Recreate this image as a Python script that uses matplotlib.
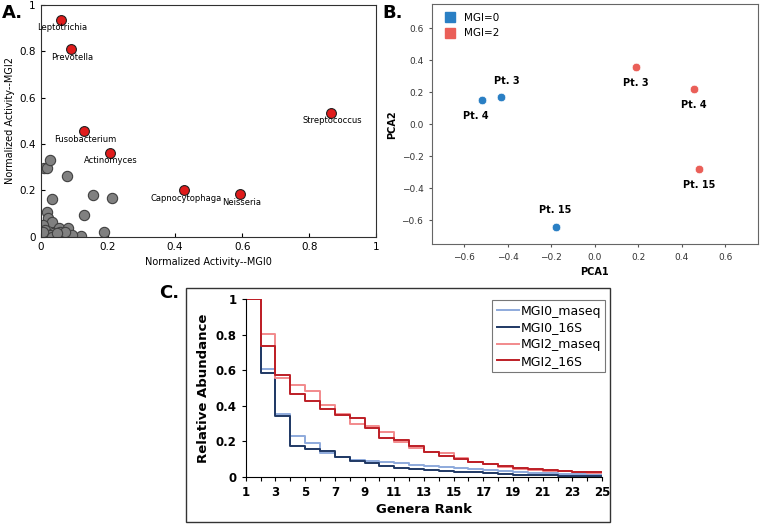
import numpy as np
import matplotlib
matplotlib.use("Agg")
import matplotlib.pyplot as plt
from matplotlib.patches import Rectangle
from matplotlib.lines import Line2D

# panel A: normalized activity
gray_x = [0.01, 0.017, 0.027, 0.078, 0.034, 0.154, 0.212, 0.128, 0.018, 0.022, 0.032, 0.006, 0.012,
          0.053, 0.08, 0.187, 0.118, 0.092, 0.054, 0.037, 0.057, 0.072, 0.004, 0.017, 0.027, 0.007,
          0.032, 0.047]
gray_y = [0.295, 0.298, 0.333, 0.262, 0.163, 0.182, 0.166, 0.095, 0.108, 0.08, 0.063, 0.052, 0.03,
          0.04, 0.037, 0.023, 0.003, 0.009, 0.001, 0.016, 0.023, 0.02, 0.001, 0.001, 0.009, 0.019,
          0.001, 0.016]
genus = ["Leptotrichia", "Prevotella", "Fusobacterium", "Actinomyces", "Capnocytophaga",
         "Neisseria", "Streptococcus"]
genus_x = [0.06, 0.09, 0.128, 0.205, 0.428, 0.595, 0.866]
genus_y = [0.935, 0.808, 0.455, 0.362, 0.2, 0.183, 0.535]

# panel B: PCA
pca1_mgi0 = [-0.52, -0.43, -0.18]
pca2_mgi0 = [0.15, 0.17, -0.64]
lab_mgi0 = ["Pt. 4", "Pt. 3", "Pt. 15"]
pca1_mgi2 = [0.19, 0.455, 0.48]
pca2_mgi2 = [0.36, 0.22, -0.28]
lab_mgi2 = ["Pt. 3", "Pt. 4", "Pt. 15"]

# panel C: rank abundance
rank = np.arange(1, 26)
mgi0_maseq = [1, 0.606, 0.352, 0.228, 0.188, 0.135, 0.108, 0.096, 0.087, 0.083, 0.077, 0.068, 0.062,
              0.055, 0.05, 0.042, 0.036, 0.032, 0.027, 0.022, 0.018, 0.016, 0.013, 0.01, 0.01]
mgi0_16s = [1, 0.584, 0.343, 0.175, 0.154, 0.145, 0.113, 0.09, 0.077, 0.06, 0.05, 0.043, 0.035,
            0.03, 0.027, 0.024, 0.02, 0.016, 0.012, 0.01, 0.008, 0.006, 0.004, 0.002, 0.002]
mgi2_maseq = [1, 0.804, 0.556, 0.514, 0.482, 0.403, 0.352, 0.296, 0.284, 0.252, 0.195, 0.16, 0.14,
              0.135, 0.105, 0.085, 0.07, 0.055, 0.045, 0.038, 0.032, 0.03, 0.026, 0.022, 0.022]
mgi2_16s = [1, 0.736, 0.571, 0.467, 0.427, 0.382, 0.345, 0.33, 0.273, 0.218, 0.205, 0.17, 0.137,
            0.115, 0.097, 0.082, 0.072, 0.058, 0.048, 0.042, 0.038, 0.033, 0.028, 0.025, 0.025]

fig = plt.figure(figsize=(7.6, 5.24), dpi=100)

# ---- A ----
axA = fig.add_axes([0.054, 0.548, 0.441, 0.443])
axA.scatter(gray_x, gray_y, s=55, c="#808080", edgecolors="#404040", linewidths=0.8, zorder=2)
axA.scatter(genus_x, genus_y, s=50, c="#e01b1b", edgecolors="#202020", linewidths=0.8, zorder=3)
for g, x, y in zip(genus, genus_x, genus_y):
    axA.annotate(g, (x, y), xytext=(1, -2.5), textcoords="offset points", ha="center", va="top",
                 fontsize=6)
axA.set_xlim(0, 1)
axA.set_ylim(0, 1)
axA.set_xticks([0, 0.2, 0.4, 0.6, 0.8, 1])
axA.set_xticklabels(["0", "0.2", "0.4", "0.6", "0.8", "1"])
axA.set_yticks([0, 0.2, 0.4, 0.6, 0.8, 1])
axA.set_yticklabels(["0", "0.2", "0.4", "0.6", "0.8", "1"])
axA.tick_params(direction="in", length=3, labelsize=7.5, pad=4)
axA.set_xlabel("Normalized Activity--MGI0", fontsize=7, labelpad=3)
axA.set_ylabel("Normalized Activity--MGI2", fontsize=7, labelpad=3)
for sp in axA.spines.values():
    sp.set_color("#303030")

# ---- B ----
blue = "#2a7fc4"
red = "#ea5f58"
axB = fig.add_axes([0.568, 0.534, 0.429, 0.458])
axB.scatter(pca1_mgi0, pca2_mgi0, s=38, c=blue, edgecolors="white", linewidths=0.5, zorder=3)
axB.scatter(pca1_mgi2, pca2_mgi2, s=38, c=red, edgecolors="white", linewidths=0.5, zorder=3)
offs0 = [(-4, -8), (4, 8), (0, 8)]
offs2 = [(0, -8), (0, -8), (0, -8)]
for lab, x, y, o in zip(lab_mgi0, pca1_mgi0, pca2_mgi0, offs0):
    axB.annotate(lab, (x, y), xytext=o, textcoords="offset points", ha="center",
                 va="top" if o[1] < 0 else "bottom", fontsize=7, fontweight="bold")
for lab, x, y, o in zip(lab_mgi2, pca1_mgi2, pca2_mgi2, offs2):
    axB.annotate(lab, (x, y), xytext=o, textcoords="offset points", ha="center", va="top",
                 fontsize=7, fontweight="bold")
axB.set_xlim(-0.75, 0.75)
axB.set_ylim(-0.75, 0.75)
axB.set_xticks([-0.6, -0.4, -0.2, 0.0, 0.2, 0.4, 0.6])
axB.set_yticks([-0.6, -0.4, -0.2, 0.0, 0.2, 0.4, 0.6])
axB.tick_params(labelsize=6.5, length=2.5, color="#555555", labelcolor="#333333")
axB.set_xlabel("PCA1", fontsize=7, fontweight="bold", labelpad=4)
axB.set_ylabel("PCA2", fontsize=7, fontweight="bold", labelpad=3)
for sp in axB.spines.values():
    sp.set_color("#666666")
handles = [Line2D([], [], marker="s", ls="", color=blue, markersize=7.5, label="MGI=0"),
           Line2D([], [], marker="s", ls="", color=red, markersize=7.5, label="MGI=2")]
axB.legend(handles=handles, loc="upper left", frameon=False, fontsize=7.5, handletextpad=0.3,
           borderaxespad=0.4, labelspacing=0.55)

# ---- C ----
axC = fig.add_axes([0.3233, 0.0903, 0.469, 0.3391])
axC.step(rank, mgi0_maseq, where="post", color="#8eaadc", lw=1.4, label="MGI0_maseq")
axC.step(rank, mgi0_16s, where="post", color="#1f3864", lw=1.4, label="MGI0_16S")
axC.step(rank, mgi2_maseq, where="post", color="#f28a8c", lw=1.4, label="MGI2_maseq")
axC.step(rank, mgi2_16s, where="post", color="#bd1e26", lw=1.4, label="MGI2_16S")
axC.set_xlim(1, 25)
axC.set_ylim(0, 1)
axC.set_xticks(np.arange(1, 26, 2))
axC.set_xticks(np.arange(1, 26), minor=True)
axC.set_yticks([0, 0.2, 0.4, 0.6, 0.8, 1])
axC.set_yticklabels(["0", "0.2", "0.4", "0.6", "0.8", "1"])
axC.spines["top"].set_visible(False)
axC.spines["right"].set_visible(False)
axC.tick_params(labelsize=8.5, length=3, width=0.8)
axC.tick_params(which="minor", length=3, width=0.8)
for t in axC.get_xticklabels() + axC.get_yticklabels():
    t.set_fontweight("bold")
axC.set_xlabel("Genera Rank", fontsize=9.5, fontweight="bold", labelpad=3)
axC.set_ylabel("Relative Abundance", fontsize=9.5, fontweight="bold", labelpad=4)
leg = axC.legend(loc="upper right", fontsize=9, fancybox=False, edgecolor="#555555",
                 handlelength=1.8, handletextpad=0.1, labelspacing=0.3, borderpad=0.35,
                 borderaxespad=0.1, bbox_to_anchor=(1.012, 1.0))
leg.get_frame().set_linewidth(0.8)

fig.patches.append(Rectangle((0.2443, 0.0044), 0.558, 0.446, transform=fig.transFigure,
                             fill=False, edgecolor="#333333", linewidth=1.0))

fig.text(0.003, 0.975, "A.", fontsize=13, fontweight="bold", va="center")
fig.text(0.503, 0.975, "B.", fontsize=13, fontweight="bold", va="center")
fig.text(0.21, 0.44, "C.", fontsize=13, fontweight="bold", va="center")

fig.savefig("out.png", dpi=100)
